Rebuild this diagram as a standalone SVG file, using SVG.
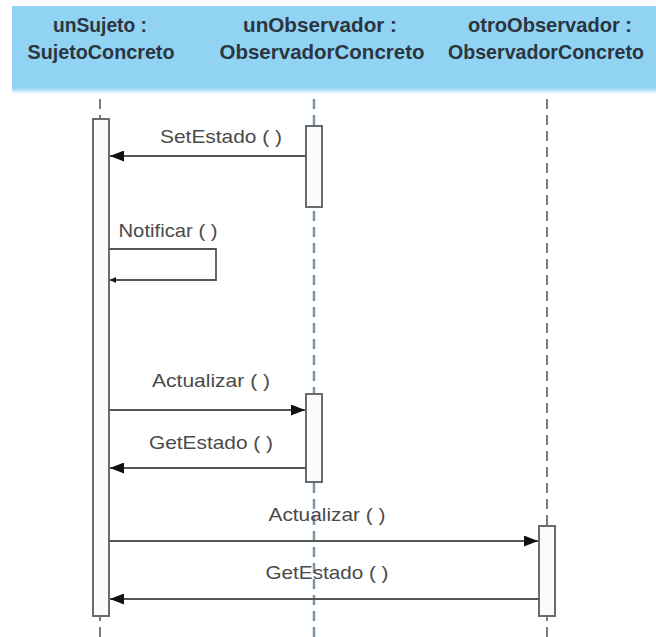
<svg xmlns="http://www.w3.org/2000/svg" width="656" height="637" viewBox="0 0 656 637">
  <defs>
    <linearGradient id="hdrFade" x1="0" y1="0" x2="0" y2="1">
      <stop offset="0" stop-color="#91d3f3"/>
      <stop offset="1" stop-color="#ffffff"/>
    </linearGradient>
    <marker id="arrowFilled" viewBox="0 0 14 11" refX="14" refY="5.5" markerWidth="14" markerHeight="11" markerUnits="userSpaceOnUse" orient="auto">
      <path d="M0,0 L14,5.5 L0,11 Z" fill="#111"/>
    </marker>
    <marker id="arrowSmall" viewBox="0 0 6 6" refX="6" refY="3" markerWidth="6" markerHeight="6" markerUnits="userSpaceOnUse" orient="auto">
      <path d="M0,0 L6,3 L0,6 Z" fill="#111"/>
    </marker>
  </defs>
  <style>
    .hdr { font-family: "Liberation Sans", Arial, sans-serif; font-weight: bold; font-size: 21px; fill: #2c3540; text-anchor: middle; }
    .hdrEdge { font-size: 19.5px; }
    .lbl { font-family: "Liberation Sans", Arial, sans-serif; font-size: 19px; fill: #4a4a4a; text-anchor: middle; }
    .life { stroke: #7a7a7a; stroke-width: 2; stroke-dasharray: 10 6; fill: none; }
    .lifeBlue { stroke: #7896ab; stroke-width: 2.5; stroke-dasharray: 10 6; fill: none; }
    .act { fill: #fbfbfb; stroke: #6a6a6a; stroke-width: 2; }
    .msg { stroke: #555; stroke-width: 1.8; fill: none; }
  </style>

  <rect width="656" height="637" fill="#ffffff"/>

  <!-- header band -->
  <rect x="12" y="6" width="644" height="82" fill="#91d3f3"/>
  <rect x="12" y="88" width="644" height="6" fill="url(#hdrFade)"/>

  <!-- lifelines -->
  <g id="lifelines">
    <line class="life" x1="100" y1="99" x2="100" y2="637"/>
    <line class="lifeBlue" x1="314" y1="99" x2="314" y2="637"/>
    <line class="life" x1="547" y1="99" x2="547" y2="637"/>
  </g>

  <g id="unSujeto">
    <text class="hdr" x="100" y="32" textLength="94" lengthAdjust="spacingAndGlyphs">unSujeto :</text>
    <text class="hdr" x="101" y="59" textLength="147" lengthAdjust="spacingAndGlyphs">SujetoConcreto</text>
    <rect class="act" x="93" y="119" width="16" height="497"/>
  </g>

  <g id="unObservador">
    <text class="hdr" x="320" y="32" textLength="154" lengthAdjust="spacingAndGlyphs">unObservador :</text>
    <text class="hdr" x="322" y="59" textLength="205" lengthAdjust="spacingAndGlyphs">ObservadorConcreto</text>
    <rect class="act" x="306" y="126" width="16" height="81"/>
    <rect class="act" x="306" y="394" width="16" height="88"/>
  </g>

  <g id="otroObservador">
    <text class="hdr" x="550" y="32" textLength="164" lengthAdjust="spacingAndGlyphs">otroObservador :</text>
    <text class="hdr hdrEdge" x="546" y="59" textLength="196" lengthAdjust="spacingAndGlyphs">ObservadorConcreto</text>
    <rect class="act" x="539" y="526" width="16" height="90"/>
  </g>

  <!-- messages -->
  <g id="connectors">
    <text class="lbl" x="221" y="143" textLength="122" lengthAdjust="spacingAndGlyphs">SetEstado ( )</text>
    <line class="msg" x1="306" y1="156" x2="110" y2="156" marker-end="url(#arrowFilled)"/>

    <text class="lbl" x="168" y="237" textLength="99" lengthAdjust="spacingAndGlyphs">Notificar ( )</text>
    <polyline class="msg" points="109,249 216,249 216,280 110,280" marker-end="url(#arrowSmall)"/>

    <text class="lbl" x="211" y="387" textLength="118" lengthAdjust="spacingAndGlyphs">Actualizar ( )</text>
    <line class="msg" x1="109" y1="410" x2="305" y2="410" marker-end="url(#arrowFilled)"/>

    <text class="lbl" x="211" y="449" textLength="124" lengthAdjust="spacingAndGlyphs">GetEstado ( )</text>
    <line class="msg" x1="306" y1="468" x2="110" y2="468" marker-end="url(#arrowFilled)"/>

    <text class="lbl" x="327" y="521" textLength="117" lengthAdjust="spacingAndGlyphs">Actualizar ( )</text>
    <line class="msg" x1="109" y1="541" x2="538" y2="541" marker-end="url(#arrowFilled)"/>

    <text class="lbl" x="327" y="579" textLength="123" lengthAdjust="spacingAndGlyphs">GetEstado ( )</text>
    <line class="msg" x1="539" y1="599" x2="110" y2="599" marker-end="url(#arrowFilled)"/>
  </g>
</svg>
